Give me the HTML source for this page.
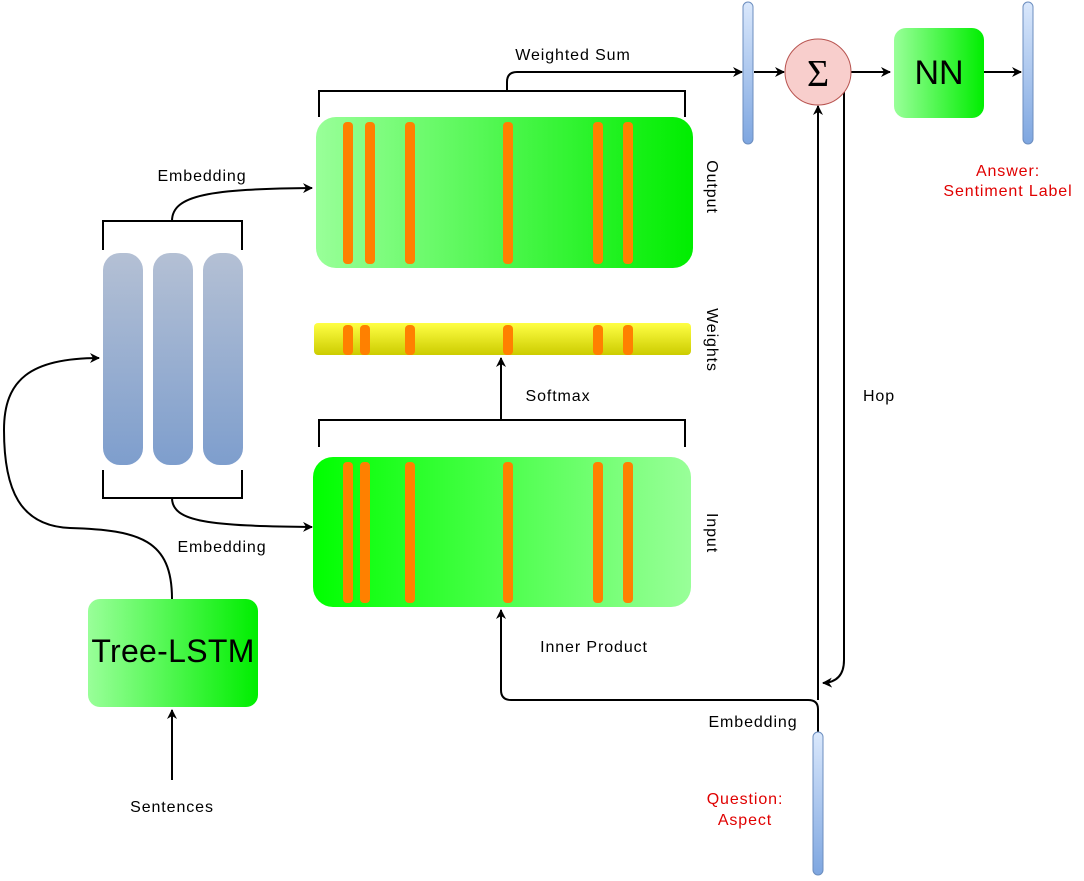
<!DOCTYPE html>
<html><head><meta charset="utf-8"><style>
html,body{margin:0;padding:0;background:#fff;}
svg{display:block;font-family:"Liberation Sans","DejaVu Sans",sans-serif;}
</style></head><body>
<svg width="1084" height="881" viewBox="0 0 1084 881" xmlns="http://www.w3.org/2000/svg">
<defs>
<linearGradient id="gOut" x1="0" x2="1" y1="0" y2="0"><stop offset="0" stop-color="#99ff99"/><stop offset="1" stop-color="#00ee00"/></linearGradient>
<linearGradient id="gIn" x1="0" x2="1" y1="0" y2="0"><stop offset="0" stop-color="#00ff00"/><stop offset="1" stop-color="#99ff99"/></linearGradient>
<linearGradient id="gY" x1="0" x2="0" y1="0" y2="1"><stop offset="0" stop-color="#ffff44"/><stop offset="1" stop-color="#cccc00"/></linearGradient>
<linearGradient id="gB" x1="0" x2="0" y1="0" y2="1"><stop offset="0" stop-color="#b4c0d4"/><stop offset="1" stop-color="#7e9ecd"/></linearGradient>
<linearGradient id="gV" x1="0" x2="0" y1="0" y2="1"><stop offset="0" stop-color="#dae8fc"/><stop offset="1" stop-color="#7ea6e0"/></linearGradient>
<marker id="ar" markerWidth="10" markerHeight="10" refX="9" refY="5" orient="auto" markerUnits="userSpaceOnUse"><path d="M0,0 L10,5 L0,10 L3,5 z" fill="#000"/></marker>
</defs>
<g fill="none" stroke="#000" stroke-width="2">
<path d="M319,117 V91 H685 V117"/>
<path d="M319,447 V420 H685 V447"/>
<path d="M103,250 V221 H242 V250"/>
<path d="M103,470 V498 H242 V470"/>
<path d="M507,91 V82 Q507,72 517,72 H742" marker-end="url(#ar)"/>
<path d="M754,72 H784" marker-end="url(#ar)"/>
<path d="M851,72 H890" marker-end="url(#ar)"/>
<path d="M984,72 H1021" marker-end="url(#ar)"/>
<path d="M501,420 V358" marker-end="url(#ar)"/>
<path d="M172,221 C172,195 210,189 312,188" marker-end="url(#ar)"/>
<path d="M172,498 C172,522 210,526 312,527" marker-end="url(#ar)"/>
<path d="M172,599 C172,540 140,530 70,528 C20,526 4,490 4,430 C4,380 30,358 99,358" marker-end="url(#ar)"/>
<path d="M172,780 V710" marker-end="url(#ar)"/>
<path d="M818,732 V709 Q818,700 808,700 H511 Q501,700 501,690 V610" marker-end="url(#ar)"/>
<path d="M818,700 V106" marker-end="url(#ar)"/>
<path d="M844,92 V660 Q844,682 823,683" marker-end="url(#ar)"/>
</g>
<rect x="316" y="117" width="377" height="151" rx="20" fill="url(#gOut)"/>
<g fill="#ff8000">
<rect x="343" y="122" width="10" height="142" rx="4"/><rect x="365" y="122" width="10" height="142" rx="4"/><rect x="405" y="122" width="10" height="142" rx="4"/><rect x="503" y="122" width="10" height="142" rx="4"/><rect x="593" y="122" width="10" height="142" rx="4"/><rect x="623" y="122" width="10" height="142" rx="4"/>
</g>
<rect x="314" y="323" width="377" height="32" rx="4" fill="url(#gY)"/>
<g fill="#ff8000">
<rect x="343" y="325" width="10" height="30" rx="4"/><rect x="360" y="325" width="10" height="30" rx="4"/><rect x="405" y="325" width="10" height="30" rx="4"/><rect x="503" y="325" width="10" height="30" rx="4"/><rect x="593" y="325" width="10" height="30" rx="4"/><rect x="623" y="325" width="10" height="30" rx="4"/>
</g>
<rect x="313" y="457" width="378" height="150" rx="20" fill="url(#gIn)"/>
<g fill="#ff8000">
<rect x="343" y="462" width="10" height="141" rx="4"/><rect x="360" y="462" width="10" height="141" rx="4"/><rect x="405" y="462" width="10" height="141" rx="4"/><rect x="503" y="462" width="10" height="141" rx="4"/><rect x="593" y="462" width="10" height="141" rx="4"/><rect x="623" y="462" width="10" height="141" rx="4"/>
</g>
<rect x="103" y="253" width="40" height="212" rx="17" fill="url(#gB)"/>
<rect x="153" y="253" width="40" height="212" rx="17" fill="url(#gB)"/>
<rect x="203" y="253" width="40" height="212" rx="17" fill="url(#gB)"/>
<rect x="88" y="599" width="170" height="108" rx="12" fill="url(#gOut)"/>
<text x="173" y="662" font-size="32" letter-spacing="0.3" text-anchor="middle">Tree-LSTM</text>
<rect x="743" y="2" width="10" height="142" rx="5" fill="url(#gV)" stroke="#6c8ebf"/>
<rect x="1023" y="2" width="10" height="142" rx="5" fill="url(#gV)" stroke="#6c8ebf"/>
<rect x="813" y="732" width="10" height="143" rx="5" fill="url(#gV)" stroke="#6c8ebf"/>
<circle cx="818" cy="72" r="33" fill="#f8cecc" stroke="#b85450"/>
<text x="818" y="86" font-size="38" text-anchor="middle" font-family="Liberation Serif,serif">Σ</text>
<rect x="894" y="28" width="90" height="90" rx="12" fill="url(#gOut)"/>
<text x="939" y="84" font-size="34" text-anchor="middle">NN</text>
<g font-size="16" letter-spacing="0.9" fill="#000">
<text x="573" y="60" text-anchor="middle">Weighted Sum</text>
<text x="202" y="181" text-anchor="middle">Embedding</text>
<text x="222" y="552" text-anchor="middle">Embedding</text>
<text x="558" y="401" text-anchor="middle">Softmax</text>
<text x="594" y="652" text-anchor="middle">Inner Product</text>
<text x="753" y="727" text-anchor="middle">Embedding</text>
<text x="879" y="401" text-anchor="middle">Hop</text>
<text x="172" y="812" text-anchor="middle">Sentences</text>
<text transform="translate(707,187) rotate(90)" text-anchor="middle">Output</text>
<text transform="translate(707,340) rotate(90)" text-anchor="middle">Weights</text>
<text transform="translate(707,533) rotate(90)" text-anchor="middle">Input</text>
</g>
<g font-size="16" letter-spacing="0.9" fill="#e00000" text-anchor="middle">
<text x="1008" y="176">Answer:</text>
<text x="1008" y="196">Sentiment Label</text>
<text x="745" y="804">Question:</text>
<text x="745" y="825">Aspect</text>
</g>
</svg>
</body></html>
